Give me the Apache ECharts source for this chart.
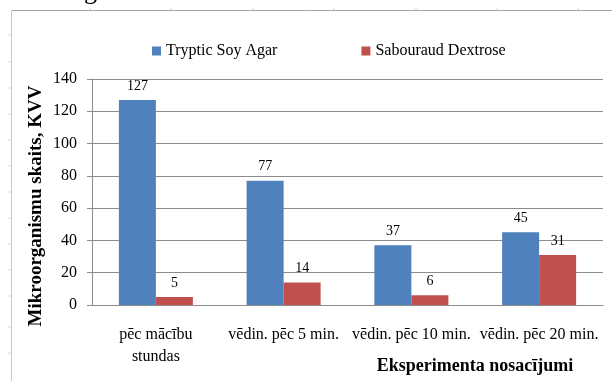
<!DOCTYPE html>
<html>
<head>
<meta charset="utf-8">
<script src="https://cdn.jsdelivr.net/npm/echarts@6/dist/echarts.min.js"></script>
<style>
  html, body { margin: 0; padding: 0; background: #fff; }
  #chart { width: 612px; height: 381px; }
</style>
</head>
<body>
<div id="chart"></div>
<script>
// Experiment conditions on the x axis
const categories = ['pēc mācību\nstundas', 'vēdin. pēc 5 min.', 'vēdin. pēc 10 min.', 'vēdin. pēc 20 min.'];
// Colony counts (KVV) per medium
const tsaValues = [127, 77, 37, 45];
const sdaValues = [5, 14, 6, 31];
// Y axis ticks
const yTicks = [0, 20, 40, 60, 80, 100, 120, 140];

const serif = 'Liberation Serif';
const chart = echarts.init(document.getElementById('chart'), null, { renderer: 'canvas' });

// faint page-frame ticks along the top and left edges
const frameTicks = [];
[90, 171, 253, 334, 416, 497, 578].forEach(x => frameTicks.push({
  type: 'line', shape: { x1: x, y1: 8, x2: x, y2: 10 }, style: { stroke: '#d8d8d8', lineWidth: 1 }
}));
[35, 62, 88, 114, 140, 166, 192, 218, 244, 270, 296, 327, 353].forEach(y => frameTicks.push({
  type: 'line', shape: { x1: 8, y1: y, x2: 11, y2: y }, style: { stroke: '#d8d8d8', lineWidth: 1 }
}));

const txt = (size, weight) => ({ fontFamily: serif, fontSize: size, fontWeight: weight || 'normal', color: '#000' });

chart.setOption({
  animation: false,
  textStyle: { fontFamily: serif },
  graphic: [
    { type: 'line', shape: { x1: 11, y1: 10.5, x2: 612, y2: 10.5 }, style: { stroke: '#a6a6a6', lineWidth: 1 } },
    { type: 'line', shape: { x1: 11.5, y1: 10, x2: 11.5, y2: 381 }, style: { stroke: '#c8c8c8', lineWidth: 1 } },
    { type: 'text', left: 84, top: -21, style: { text: 'g', fontFamily: serif, fontSize: 26, fill: '#000' } },
    // axis titles
    {
      type: 'text', x: 36, y: 206, rotation: Math.PI / 2,
      style: { text: 'Mikroorganismu skaits, KVV', fontFamily: serif, fontSize: 19, fontWeight: 'bold', fill: '#000', align: 'center', verticalAlign: 'middle' }
    },
    {
      type: 'text', x: 475, y: 366,
      style: { text: 'Eksperimenta nosacījumi', fontFamily: serif, fontSize: 18, fontWeight: 'bold', fill: '#000', align: 'center', verticalAlign: 'middle' }
    },
    ...frameTicks
  ],
  legend: {
    top: 38,
    left: 147,
    itemGap: 84,
    itemWidth: 9,
    itemHeight: 9,
    icon: 'rect',
    textStyle: txt(16),
    data: ['Tryptic Soy Agar', 'Sabouraud Dextrose']
  },
  grid: { left: 92, right: 9, top: 79, bottom: 76, containLabel: false, outerBoundsMode: 'none' },
  xAxis: {
    type: 'category',
    data: categories,
    axisLine: { lineStyle: { color: '#8c8c8c', width: 1 } },
    axisTick: { show: false },
    axisLabel: Object.assign(txt(16), { margin: 19, lineHeight: 22, interval: 0 })
  },
  yAxis: {
    type: 'value',
    min: yTicks[0],
    max: yTicks[yTicks.length - 1],
    interval: 20,
    axisLine: { show: true, lineStyle: { color: '#8c8c8c', width: 1 } },
    axisTick: { show: true, length: 5, lineStyle: { color: '#8c8c8c' } },
    axisLabel: Object.assign(txt(16), { margin: 15 }),
    splitLine: { lineStyle: { color: '#8c8c8c', width: 1 } }
  },
  series: [
    {
      name: 'Tryptic Soy Agar',
      type: 'bar',
      data: tsaValues,
      barWidth: 37,
      barGap: '0%',
      itemStyle: { color: '#4F81BD' },
      label: Object.assign(txt(14), { show: true, position: 'top', distance: 7 })
    },
    {
      name: 'Sabouraud Dextrose',
      type: 'bar',
      data: sdaValues,
      barWidth: 37,
      barGap: '0%',
      itemStyle: { color: '#C0504D' },
      label: Object.assign(txt(14), { show: true, position: 'top', distance: 7 })
    }
  ]
});
</script>
</body>
</html>
